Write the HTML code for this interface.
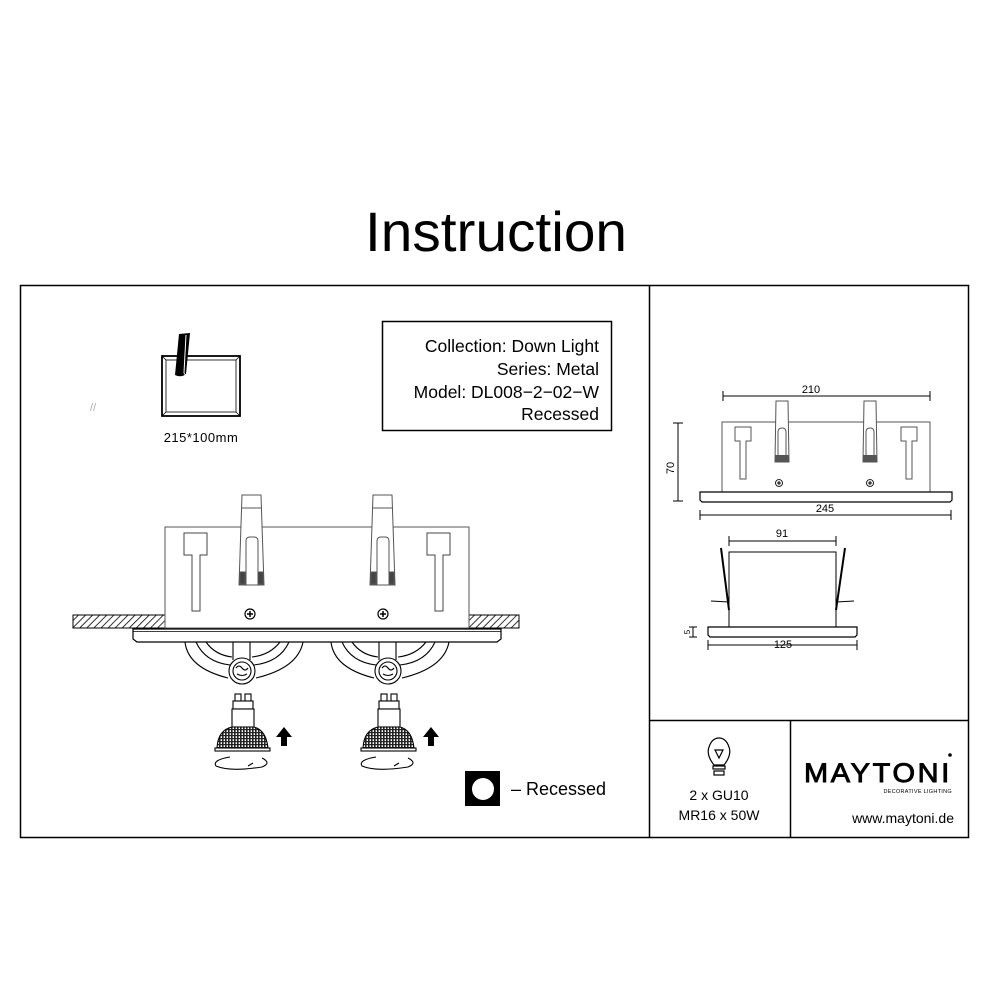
<!DOCTYPE html>
<html><head><meta charset="utf-8"><style>
html,body{margin:0;padding:0;background:#fff;}
svg{display:block;}
text{font-family:"Liberation Sans",Arial,sans-serif;fill:#000;}
</style></head><body>
<svg width="1000" height="1000" viewBox="0 0 1000 1000" xmlns="http://www.w3.org/2000/svg">
<defs>
<pattern id="hatch" width="5" height="5" patternUnits="userSpaceOnUse" patternTransform="rotate(45)">
<line x1="0" y1="0" x2="0" y2="5" stroke="#000" stroke-width="1.6"/>
</pattern>
<pattern id="grid" width="3" height="3" patternUnits="userSpaceOnUse">
<rect width="3" height="3" fill="#fff"/><rect width="1.6" height="3" fill="#222"/><rect width="3" height="1.2" fill="#222"/>
</pattern>
<g id="clip" fill="#fff" stroke="#555" stroke-width="1">
<path d="M242 495 L261 495 L264 585 L239 585 Z"/>
<line x1="242" y1="508" x2="261" y2="508"/>
<path d="M246 585 L246 541 Q246 537 250 537 L254 537 Q258 537 258 541 L258 585" fill="none"/>
<rect x="240" y="572" width="5" height="12" fill="#444"/><rect x="258" y="572" width="5" height="12" fill="#444"/>
</g>
<g id="tee" fill="#fff" stroke="#444" stroke-width="1">
<path d="M0 0 H23 V22 H16 V78 H8 V22 H0 Z"/>
</g>
<g id="screw">
<circle cx="0" cy="0" r="5" fill="#fff" stroke="#000" stroke-width="1.2"/>
<path d="M-3 0 H3 M0 -3 V3" stroke="#000" stroke-width="1.5"/>
</g>
<g id="lamp" fill="none" stroke="#000" stroke-width="1.1">
<path d="M185 642 Q188 668 228 678"/>
<path d="M303 642 Q298 668 256 678"/>
<path d="M196 642 Q205 662 230 665"/>
<path d="M289 642 Q280 662 254 665"/>
<path d="M206 642 Q215 655 232 657"/>
<path d="M280 642 Q270 655 252 657"/>
<line x1="233" y1="642" x2="233" y2="660"/><line x1="250" y1="642" x2="250" y2="660"/>
<circle cx="242" cy="671" r="13" fill="#fff"/>
<circle cx="242" cy="671" r="9"/>
<path d="M236 668 q3 -4 6 0 q3 4 6 0 M237 674 q5 3 10 0"/>
<rect x="235" y="694" width="6" height="7" fill="#fff"/><rect x="245" y="694" width="6" height="7" fill="#fff"/>
<rect x="233" y="701" width="20" height="8" fill="#fff"/>
<rect x="232" y="709" width="22" height="18" fill="#fff"/>
<path d="M232 727 Q218 730 217 748 L268 748 Q266 730 254 727 Z" fill="url(#grid)"/>
<rect x="215" y="748" width="55" height="3" fill="#fff"/>
<path d="M230 757 Q212 760 216 766 Q230 772 262 767 Q272 763 262 758 M248 766 l5 -3" />
</g>
<g id="arrow"><path d="M0 -10 L8 0 L3 0 L3 9 L-3 9 L-3 0 L-8 0 Z" fill="#000"/></g>
</defs>

<text x="496" y="251" font-size="56" text-anchor="middle" textLength="262" lengthAdjust="spacingAndGlyphs">Instruction</text>

<rect x="20.5" y="285.5" width="948" height="552" fill="none" stroke="#000" stroke-width="1.5"/>
<line x1="649.5" y1="285" x2="649.5" y2="838" stroke="#000" stroke-width="1.5"/>
<line x1="649" y1="720.5" x2="969" y2="720.5" stroke="#000" stroke-width="1.5"/>
<line x1="790.5" y1="720" x2="790.5" y2="838" stroke="#000" stroke-width="1.5"/>

<rect x="382.5" y="321.5" width="229" height="109" fill="none" stroke="#000" stroke-width="1.5"/>
<g font-size="17.5" text-anchor="end">
<text x="599" y="352">Collection: Down Light</text>
<text x="599" y="375">Series: Metal</text>
<text x="599" y="398">Model: DL008−2−02−W</text>
<text x="599" y="420">Recessed</text>
</g>

<g stroke="#000" fill="none">
<rect x="162" y="356" width="78" height="60" stroke-width="1.8"/>
<rect x="166" y="360" width="70" height="52" stroke-width="0.8"/>
<path d="M162 356 L166 360 M240 356 L236 360 M162 416 L166 412 M240 416 L236 412" stroke-width="0.8"/>
</g>
<path d="M179 334 L190 333 L186 374 Q181 378 175 375 Z" fill="#000"/>
<path d="M186 335 L184 373 Q188 378 186 378" stroke="#fff" stroke-width="1" fill="none"/>
<text x="90" y="411" font-size="11" style="fill:#aaa">//</text>
<text x="201" y="442" font-size="13" text-anchor="middle" letter-spacing="0.5">215*100mm</text>

<rect x="73" y="615" width="92" height="13" fill="url(#hatch)" stroke="#000" stroke-width="1"/>
<rect x="469" y="615" width="50" height="13" fill="url(#hatch)" stroke="#000" stroke-width="1"/>
<rect x="165" y="527" width="304" height="101" fill="#fff" stroke="#555" stroke-width="1"/>
<use href="#clip"/>
<use href="#clip" transform="translate(131 0)"/>
<use href="#tee" transform="translate(184 533)"/>
<use href="#tee" transform="translate(427 533)"/>
<use href="#screw" transform="translate(250 614)"/>
<use href="#screw" transform="translate(383 614)"/>
<path d="M133 629 H501 V639 L497 642 H137 L133 639 Z" fill="#fff" stroke="#000" stroke-width="1.2"/>
<line x1="133" y1="631.5" x2="501" y2="631.5" stroke="#000" stroke-width="0.8"/>
<use href="#lamp"/>
<use href="#lamp" transform="translate(146 0)"/>
<use href="#arrow" transform="translate(284 737)"/>
<use href="#arrow" transform="translate(431 737)"/>

<rect x="465" y="771" width="35" height="35" fill="#000"/>
<circle cx="483" cy="789" r="11" fill="#fff"/>
<text x="511" y="795" font-size="18">– Recessed</text>

<g stroke="#000" stroke-width="1" fill="none">
<line x1="723" y1="396" x2="930" y2="396"/><line x1="723" y1="391" x2="723" y2="401"/><line x1="930" y1="391" x2="930" y2="401"/>
<line x1="678" y1="423" x2="678" y2="501"/><line x1="673" y1="423" x2="683" y2="423"/><line x1="673" y1="501" x2="683" y2="501"/>
<line x1="700" y1="515" x2="951" y2="515"/><line x1="700" y1="510" x2="700" y2="520"/><line x1="951" y1="510" x2="951" y2="520"/>
<rect x="722" y="422" width="208" height="70" fill="#fff" stroke="#555"/>
<path d="M700 492 H952 V500 L950 502 H702 L700 500 Z" fill="#fff" stroke-width="1.2"/>
<line x1="729" y1="541" x2="836" y2="541"/><line x1="729" y1="536" x2="729" y2="546"/><line x1="836" y1="536" x2="836" y2="546"/>
<rect x="729" y="552" width="107" height="75" fill="#fff"/>
<path d="M708 627 H857 V635 L855 637 H710 L708 635 Z" fill="#fff" stroke-width="1.2"/>
<line x1="708" y1="645" x2="857" y2="645"/><line x1="708" y1="640" x2="708" y2="650"/><line x1="857" y1="640" x2="857" y2="650"/>
<line x1="693" y1="627" x2="693" y2="637"/><line x1="689" y1="627" x2="697" y2="627"/><line x1="689" y1="637" x2="697" y2="637"/>
<path d="M721 548 L729 610" stroke-width="2"/><path d="M711 601 L729 602"/>
<path d="M845 548 L836 610" stroke-width="2"/><path d="M854 601 L836 602"/>
</g>
<g fill="#fff" stroke="#555" stroke-width="1">
<path d="M776 401 H788 L789 462 H775 Z"/><path d="M778 462 V432 Q778 428 782 428 Q786 428 786 432 V462" fill="none"/>
<path d="M864 401 H876 L877 462 H863 Z"/><path d="M866 462 V432 Q866 428 870 428 Q874 428 874 432 V462" fill="none"/>
<path d="M735 427 H751 V441 H746 V479 H740 V441 H735 Z"/>
<path d="M901 427 H917 V441 H912 V479 H906 V441 H901 Z"/>
</g>
<rect x="775" y="455" width="14" height="7" fill="#555"/><rect x="863" y="455" width="14" height="7" fill="#555"/>
<use href="#screw" transform="translate(779 483) scale(0.7)"/>
<use href="#screw" transform="translate(870 483) scale(0.7)"/>
<g font-size="11" text-anchor="middle">
<text x="811" y="393">210</text>
<text x="825" y="512">245</text>
<text x="782" y="537">91</text>
<text x="783" y="648">125</text>
<text x="0" y="0" transform="translate(674 468) rotate(-90)">70</text>
<text x="0" y="0" font-size="8" transform="translate(690 632) rotate(-90)">5</text>
</g>

<g fill="none" stroke="#000" stroke-width="1.2">
<path d="M714 765 Q706 755 709 747 Q712 738 719 738 Q726 738 729 747 Q732 755 724 765 Z"/>
<path d="M715 750 L723 750 L719 758 Z"/>
<rect x="713" y="766" width="12" height="3"/>
<rect x="714" y="771" width="10" height="4"/>
</g>
<text x="719" y="800" font-size="14" text-anchor="middle">2 x GU10</text>
<text x="719" y="820" font-size="14" text-anchor="middle">MR16 x 50W</text>

<text x="878" y="782" font-size="27" text-anchor="middle" letter-spacing="2.5" stroke="#000" stroke-width="0.9" textLength="148" lengthAdjust="spacingAndGlyphs">MAYTONI</text>
<circle cx="950" cy="755" r="1.8" fill="#000"/>
<text x="952" y="793" font-size="5.5" text-anchor="end" letter-spacing="0.3">DECORATIVE LIGHTING</text>
<text x="954" y="823" font-size="14" text-anchor="end">www.maytoni.de</text>
</svg>
</body></html>
